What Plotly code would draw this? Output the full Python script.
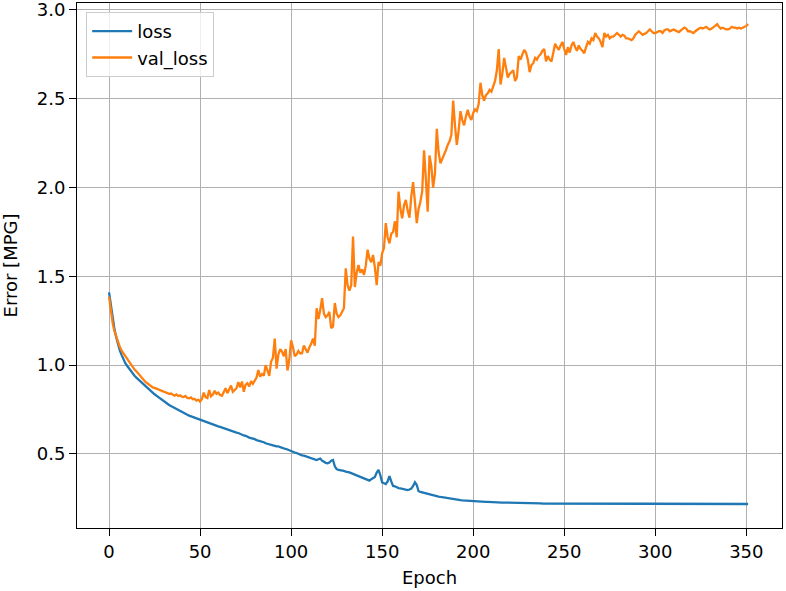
import plotly.graph_objects as go

# Training history, epoch 0..351
loss = [
    1.41, 1.33, 1.26, 1.20, 1.155, 1.115, 1.08, 1.055, 1.03, 1.01,
    0.995, 0.98, 0.965, 0.952, 0.94, 0.93, 0.92, 0.91, 0.90, 0.893,
    0.885, 0.874, 0.864, 0.854, 0.845, 0.836, 0.828, 0.82, 0.812, 0.804,
    0.797, 0.79, 0.783, 0.776, 0.77, 0.764, 0.758, 0.752, 0.746, 0.741,
    0.736, 0.731, 0.726, 0.721, 0.716, 0.712, 0.707, 0.703, 0.699, 0.695,
    0.691, 0.688, 0.684, 0.68, 0.677, 0.673, 0.67, 0.666, 0.663, 0.659,
    0.655, 0.652, 0.648, 0.646, 0.641, 0.638, 0.634, 0.632, 0.627, 0.624,
    0.62, 0.618, 0.612, 0.609, 0.604, 0.602, 0.596, 0.592, 0.589, 0.588,
    0.583, 0.578, 0.576, 0.571, 0.568, 0.566, 0.56, 0.558, 0.556, 0.551,
    0.552, 0.546, 0.543, 0.543, 0.538, 0.536, 0.53, 0.528, 0.525, 0.52,
    0.516, 0.512, 0.508, 0.505, 0.5, 0.498, 0.492, 0.49, 0.486, 0.483,
    0.478, 0.476, 0.472, 0.469, 0.466, 0.47, 0.474, 0.462, 0.455, 0.45,
    0.447, 0.452, 0.462, 0.466, 0.43, 0.415, 0.41, 0.409, 0.405, 0.404,
    0.401, 0.4, 0.396, 0.392, 0.388, 0.385, 0.38, 0.376, 0.372, 0.366,
    0.362, 0.358, 0.354, 0.35, 0.358, 0.362, 0.37, 0.395, 0.41, 0.38,
    0.34, 0.335, 0.33, 0.345, 0.375, 0.345, 0.32, 0.318, 0.312, 0.308,
    0.306, 0.303, 0.3, 0.297, 0.296, 0.3, 0.305, 0.32, 0.34, 0.325,
    0.29, 0.286, 0.283, 0.28, 0.279, 0.276, 0.273, 0.27, 0.267, 0.265,
    0.263, 0.26, 0.258, 0.256, 0.254, 0.252, 0.25, 0.248, 0.246, 0.245,
    0.243, 0.242, 0.241, 0.24, 0.239, 0.238, 0.237, 0.236, 0.236, 0.235,
    0.235, 0.234, 0.233, 0.233, 0.232, 0.231, 0.231, 0.23, 0.23, 0.229,
    0.229, 0.228, 0.228, 0.227, 0.227, 0.227, 0.226, 0.226, 0.226, 0.225,
    0.225, 0.225, 0.224, 0.224, 0.224, 0.224, 0.223, 0.223, 0.223, 0.223,
    0.223, 0.223, 0.222, 0.222, 0.222, 0.222, 0.222, 0.222, 0.221, 0.221,
    0.221, 0.221, 0.221, 0.221, 0.221, 0.221, 0.220, 0.220, 0.220, 0.220,
    0.220, 0.220, 0.220, 0.220, 0.220, 0.220, 0.220, 0.220, 0.220, 0.220,
    0.220, 0.220, 0.220, 0.219, 0.219, 0.219, 0.219, 0.219, 0.219, 0.219,
    0.219, 0.219, 0.219, 0.219, 0.219, 0.219, 0.219, 0.219, 0.219, 0.219,
    0.219, 0.219, 0.219, 0.219, 0.219, 0.219, 0.219, 0.219, 0.219, 0.219,
    0.219, 0.219, 0.219, 0.219, 0.219, 0.219, 0.219, 0.219, 0.219, 0.219,
    0.219, 0.219, 0.219, 0.219, 0.218, 0.218, 0.218, 0.218, 0.218, 0.218,
    0.218, 0.218, 0.218, 0.218, 0.218, 0.218, 0.218, 0.218, 0.218, 0.218,
    0.218, 0.218, 0.218, 0.218, 0.218, 0.218, 0.218, 0.218, 0.218, 0.218,
    0.218, 0.218, 0.218, 0.218, 0.218, 0.218, 0.218, 0.218, 0.218, 0.218,
    0.218, 0.218, 0.218, 0.218, 0.218, 0.218, 0.218, 0.218, 0.218, 0.218,
    0.218, 0.218,
]

val_loss = [
    1.386, 1.30, 1.235, 1.19, 1.155, 1.125, 1.10, 1.08, 1.065, 1.045,
    1.03, 1.015, 1.0, 0.99, 0.975, 0.965, 0.952, 0.94, 0.93, 0.915,
    0.905, 0.898, 0.89, 0.885, 0.875, 0.872, 0.868, 0.862, 0.858, 0.855,
    0.85, 0.845, 0.843, 0.838, 0.84, 0.832, 0.828, 0.835, 0.826, 0.83,
    0.822, 0.82, 0.826, 0.815, 0.813, 0.818, 0.808, 0.81, 0.80, 0.806,
    0.795, 0.81, 0.845, 0.82, 0.815, 0.86, 0.825, 0.835, 0.855, 0.838,
    0.845, 0.832, 0.828, 0.848, 0.87, 0.842, 0.865, 0.885, 0.85, 0.86,
    0.87, 0.905, 0.875, 0.908, 0.85, 0.89, 0.898, 0.88, 0.91, 0.895,
    0.917, 0.93, 0.972, 0.935, 0.95, 0.94, 1.0, 0.97, 0.94, 1.02,
    1.04, 1.15, 0.98, 1.06, 1.09, 1.076, 1.05, 1.09, 0.97, 1.03,
    1.14, 1.10, 1.05, 1.06, 1.08, 1.065, 1.067, 1.11, 1.09, 1.07,
    1.10, 1.12, 1.15, 1.11, 1.32, 1.26, 1.31, 1.377, 1.29, 1.27,
    1.28, 1.30, 1.208, 1.217, 1.35, 1.29, 1.27, 1.28, 1.30, 1.32,
    1.545, 1.45, 1.42, 1.45, 1.724, 1.44, 1.52, 1.564, 1.52, 1.54,
    1.508, 1.56, 1.65, 1.60, 1.58, 1.62, 1.55, 1.45, 1.58, 1.56,
    1.63, 1.66, 1.80, 1.72, 1.686, 1.74, 1.75, 1.81, 1.72, 1.977,
    1.88, 1.827, 1.90, 1.93, 1.87, 1.83, 1.95, 2.03, 1.92, 1.80,
    1.88, 1.92, 1.98, 2.21, 2.05, 1.864, 2.18, 2.12, 2.0, 2.08,
    2.33, 2.20, 2.137, 2.16, 2.18, 2.21, 2.24, 2.26, 2.296, 2.49,
    2.35, 2.24, 2.32, 2.43, 2.38, 2.35, 2.40, 2.437, 2.40, 2.38,
    2.42, 2.44, 2.43, 2.47, 2.59, 2.52, 2.49, 2.52, 2.53, 2.55,
    2.54, 2.57, 2.60, 2.66, 2.78, 2.58, 2.64, 2.73, 2.68, 2.62,
    2.64, 2.65, 2.66, 2.60, 2.62, 2.74, 2.72, 2.75, 2.775, 2.76,
    2.72, 2.65, 2.69, 2.70, 2.73, 2.72, 2.74, 2.75, 2.77, 2.78,
    2.71, 2.74, 2.72, 2.71, 2.76, 2.81, 2.79, 2.775, 2.80, 2.82,
    2.78, 2.746, 2.79, 2.76, 2.80, 2.82, 2.79, 2.77, 2.80, 2.78,
    2.77, 2.756, 2.79, 2.82, 2.81, 2.84, 2.83, 2.87, 2.85, 2.84,
    2.82, 2.79, 2.87, 2.85, 2.86, 2.84, 2.85, 2.85, 2.86, 2.87,
    2.86, 2.85, 2.86, 2.855, 2.84, 2.84, 2.835, 2.83, 2.84, 2.86,
    2.87, 2.88, 2.87, 2.86, 2.865, 2.87, 2.88, 2.89, 2.88, 2.87,
    2.87, 2.875, 2.88, 2.88, 2.87, 2.885, 2.89, 2.89, 2.88, 2.885,
    2.89, 2.885, 2.88, 2.875, 2.885, 2.895, 2.90, 2.895, 2.88, 2.88,
    2.875, 2.87, 2.88, 2.89, 2.895, 2.90, 2.895, 2.90, 2.905, 2.895,
    2.89, 2.895, 2.905, 2.91, 2.92, 2.905, 2.895, 2.90, 2.895, 2.89,
    2.89, 2.895, 2.905, 2.90, 2.90, 2.895, 2.90, 2.895, 2.90, 2.905,
    2.91, 2.92,
]

epochs = list(range(len(loss)))
x_ticks = [0, 50, 100, 150, 200, 250, 300, 350]
y_ticks = [0.5, 1.0, 1.5, 2.0, 2.5, 3.0]

FONT = "DejaVu Sans"
FS = 18

fig = go.Figure()
fig.add_trace(go.Scatter(x=epochs, y=loss, mode="lines", name="loss",
                         line=dict(color="#1f77b4", width=2.3)))
fig.add_trace(go.Scatter(x=epochs, y=val_loss, mode="lines", name="val_loss",
                         line=dict(color="#ff7f0e", width=2.3)))

axis_common = dict(
    showline=True, linecolor="black", linewidth=1, mirror=True,
    showgrid=True, gridcolor="#b0b0b0", gridwidth=1,
    ticks="outside", ticklen=7, tickwidth=1, tickcolor="black",
    zeroline=False, tickfont=dict(family=FONT, size=FS, color="black"),
    ticklabeloverflow="allow",
)

fig.update_xaxes(range=[-17.6, 369.6], tickvals=x_ticks,
                 ticktext=[str(v) for v in x_ticks],
                 title=dict(text="Epoch", font=dict(family=FONT, size=FS, color="black"), standoff=10),
                 **axis_common)
fig.update_yaxes(range=[0.083, 3.039], tickvals=y_ticks,
                 ticktext=[f"{v:.1f}" for v in y_ticks],
                 title=dict(text="Error [MPG]", font=dict(family=FONT, size=FS, color="black"), standoff=15),
                 **axis_common)

fig.update_layout(
    width=786, height=591,
    margin=dict(l=77, r=4, t=3, b=63, autoexpand=False),
    paper_bgcolor="white", plot_bgcolor="white",
    font=dict(family=FONT, size=FS, color="black"),
    legend=dict(x=0.013, y=0.983, xanchor="left", yanchor="top",
                bgcolor="rgba(255,255,255,0.8)", bordercolor="#cccccc", borderwidth=1,
                font=dict(family=FONT, size=FS, color="black"),
                itemwidth=40, tracegroupgap=4),
    showlegend=True,
)

fig.write_html("out.html")
